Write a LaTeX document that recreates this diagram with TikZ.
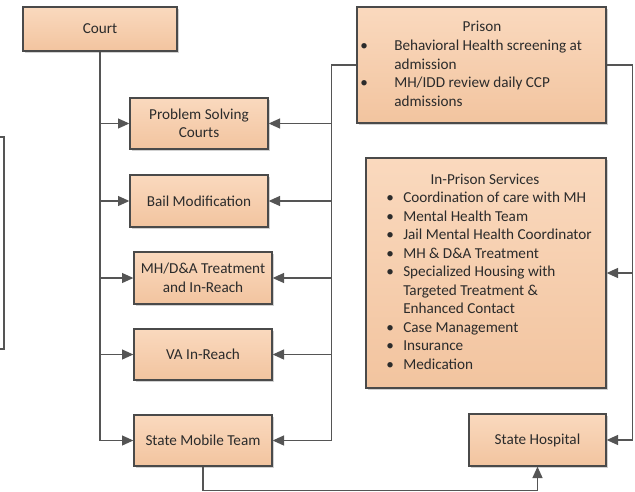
\documentclass[tikz,border=0pt]{standalone}
\usepackage{fontspec}
\setmainfont{Carlito}
\usetikzlibrary{arrows.meta,shadows}
\definecolor{boxline}{HTML}{4A4A4A}
\definecolor{wirecol}{HTML}{555555}
\definecolor{ink}{HTML}{2B2B2B}
\definecolor{peachtop}{HTML}{FAD9BE}
\definecolor{peachbot}{HTML}{F2C49F}
\begin{document}
\begin{tikzpicture}[x=0.75pt,y=-0.75pt,
  font=\fontsize{11.4}{13.9}\selectfont, text=ink,
  sz/.style 2 args={minimum width={#1*0.75pt}, minimum height={#2*0.75pt}},
  box/.style={draw=boxline, line width=1pt, top color=peachtop, bottom color=peachbot,
    drop shadow={shadow xshift=1.2pt, shadow yshift=-1.2pt, fill=black!60, opacity=0.3},
    inner sep=0pt, align=center},
  wire/.style={draw=wirecol, line width=0.9pt},
  arr/.style={wire, -{Triangle[length=8.5pt,width=7.5pt]}},
  txt/.style={inner sep=0pt},
]
\useasboundingbox (0,0) rectangle (635,492);

% edge of a frame that runs off the left side
\draw[wire] (0,137) -- (4,137) -- (4,349) -- (0,349);

% boxes
\node[box, sz={154}{44}] (court) at (100,29) {Court};
\node[box, sz={138}{51}] (psc) at (199,123.5) {Problem Solving\\Courts};
\node[box, sz={138}{52}] (bail) at (199,201) {Bail Modification};
\node[box, sz={138}{52}] (mhda) at (203,278) {MH/D\&A Treatment\\and In-Reach};
\node[box, sz={138}{51}] (va) at (203,354.5) {VA In-Reach};
\node[box, sz={138}{51}] (smt) at (203,440.5) {State Mobile Team};
\node[box, sz={249}{116}] (prison) at (481.5,65) {};
\node[box, sz={240}{230}] (inprison) at (486,273) {};
\node[box, sz={137}{52}] (hosp) at (537.5,440) {State Hospital};

% prison text
\node[txt, anchor=base] (prisonhead) at (482,31.5) {Prison};
\node[txt, anchor=base west] (prisonlist) at (360,50.5) {%
  \begin{tabular}[t]{@{}p{25.5pt}@{}l@{}}
  \textbullet & Behavioral Health screening at\\
              & admission\\
  \textbullet & MH/IDD review daily CCP\\
              & admissions
  \end{tabular}};

% in-prison services text
\node[txt, anchor=base] (iphead) at (485,184.5) {In-Prison Services};
\node[txt, anchor=base west] (iplist) at (386,202.5) {%
  \begin{tabular}[t]{@{}p{12.75pt}@{}l@{}}
  \textbullet & Coordination of care with MH\\
  \textbullet & Mental Health Team\\
  \textbullet & Jail Mental Health Coordinator\\
  \textbullet & MH \& D\&A Treatment\\
  \textbullet & Specialized Housing with\\
              & Targeted Treatment \&\\
              & Enhanced Contact\\
  \textbullet & Case Management\\
  \textbullet & Insurance\\
  \textbullet & Medication
  \end{tabular}};

% court trunk
\coordinate (lbot) at (court.south |- smt.west);
\draw[wire] (court.south) -- (lbot);
\draw[arr] (lbot) -- (smt.west);
\foreach \b in {psc,bail,mhda,va}
  \draw[arr] (court.south |- \b.west) -- (\b.west);

% prison trunk to the left
\path (prison.west) ++(-25,0) coordinate (rtop);
\draw[arr] (prison.west) -- (rtop) |- (smt.east);
\foreach \b in {psc,bail,mhda,va}
  \draw[arr] (rtop |- \b.east) -- (\b.east);

% prison trunk to the right
\path (prison.east) ++(26,0) coordinate (rside);
\draw[arr] (prison.east) -- (rside) |- (hosp.east);
\draw[arr] (rside |- inprison.east) -- (inprison.east);

% mobile team to state hospital
\path (smt.south) ++(0,24) coordinate (bl);
\draw[arr] (smt.south) -- (bl) -| (hosp.south);
\end{tikzpicture}
\end{document}
